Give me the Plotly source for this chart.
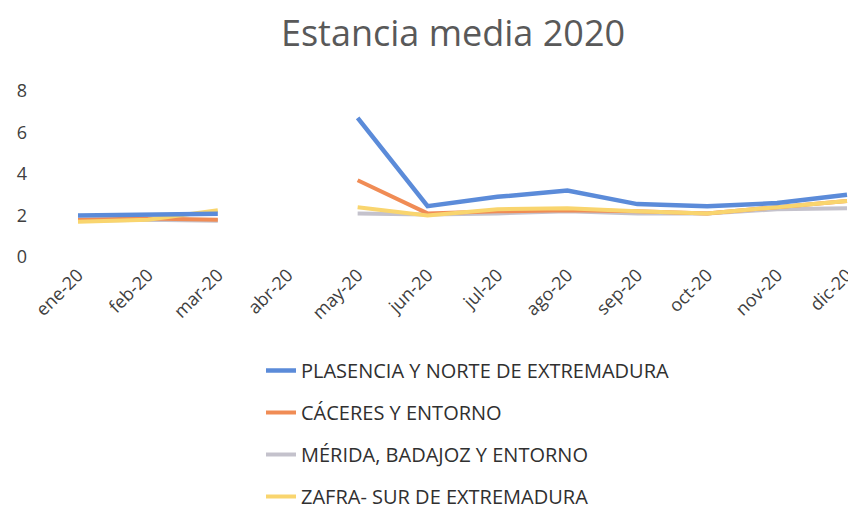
import plotly.graph_objects as go

months = ["ene-20", "feb-20", "mar-20", "abr-20", "may-20", "jun-20",
          "jul-20", "ago-20", "sep-20", "oct-20", "nov-20", "dic-20"]

plasencia = [2.0, 2.05, 2.08, None, 6.7, 2.45, 2.9, 3.2, 2.55, 2.45, 2.6, 3.0]
caceres = [1.8, 1.85, 1.8, None, 3.7, 2.1, 2.2, 2.25, 2.2, 2.1, 2.4, 2.7]
merida = [1.75, 1.8, 1.75, None, 2.1, 2.05, 2.1, 2.2, 2.1, 2.1, 2.3, 2.35]
zafra = [1.7, 1.8, 2.25, None, 2.4, 2.0, 2.3, 2.35, 2.2, 2.1, 2.4, 2.7]

names = ["PLASENCIA Y NORTE DE EXTREMADURA", "CÁCERES Y ENTORNO",
         "MÉRIDA, BADAJOZ Y ENTORNO", "ZAFRA- SUR DE EXTREMADURA"]
colors = ["#5B8BD9", "#F08C55", "#C4C2CC", "#F9D56E"]
series = [plasencia, caceres, merida, zafra]
widths = [4.5, 4, 4, 4]
zorders = [4, 2, 1, 3]

W, H = 856, 512
OFF = 8  # page body margin shifts the figure by 8px
PL, PR, PT, PB = 40 - OFF, 850 - OFF, 91 - OFF, 257 - OFF  # plot box in figure px

fig = go.Figure()
for i, (name, vals, col, w, z) in enumerate(zip(names, series, colors, widths, zorders)):
    fig.add_trace(go.Scatter(x=months, y=vals, name=name, mode="lines",
                             line=dict(color=col, width=w), zorder=z,
                             legendgroup=str(i), legendrank=i + 1,
                             connectgaps=False))

pw, ph = PR - PL, PB - PT
fig.update_layout(
    width=W, height=H,
    paper_bgcolor="white", plot_bgcolor="white",
    margin=dict(l=PL, r=W - PR, t=PT, b=H - PB, autoexpand=False),
    title=dict(text="Estancia media 2020", x=(453 - OFF) / W, xanchor="center",
               y=1 - (33 - OFF) / H, yanchor="middle",
               font=dict(family="Open Sans", size=36, color="#595959")),
    font=dict(family="Open Sans", color="#404040"),
    showlegend=True,
    legend=dict(x=(261 - OFF - PL) / pw, y=(PB - (351 - OFF)) / ph,
                xanchor="left", yanchor="top",
                orientation="v", traceorder="grouped", tracegroupgap=13,
                font=dict(size=20, color="#303030"),
                bgcolor="rgba(0,0,0,0)"),
)
x0 = 78 - OFF
x11 = 847 - OFF
ppu = (x11 - x0) / 11
fig.update_xaxes(type="category", categoryorder="array", categoryarray=months,
                 range=[-(x0 - PL) / ppu, 11 + (PR - x11) / ppu],
                 tickangle=-45, showgrid=False,
                 showline=False, zeroline=False, ticks="", automargin=False,
                 ticklabelstandoff=3,
                 tickfont=dict(size=18, color="#404040"))
fig.update_yaxes(range=[0, 8], tickvals=[0, 2, 4, 6, 8], showgrid=False,
                 zeroline=False, showline=False, ticks="", automargin=False,
                 ticklabelstandoff=12,
                 tickfont=dict(size=18, color="#404040"))

fig.write_html("out.html")
